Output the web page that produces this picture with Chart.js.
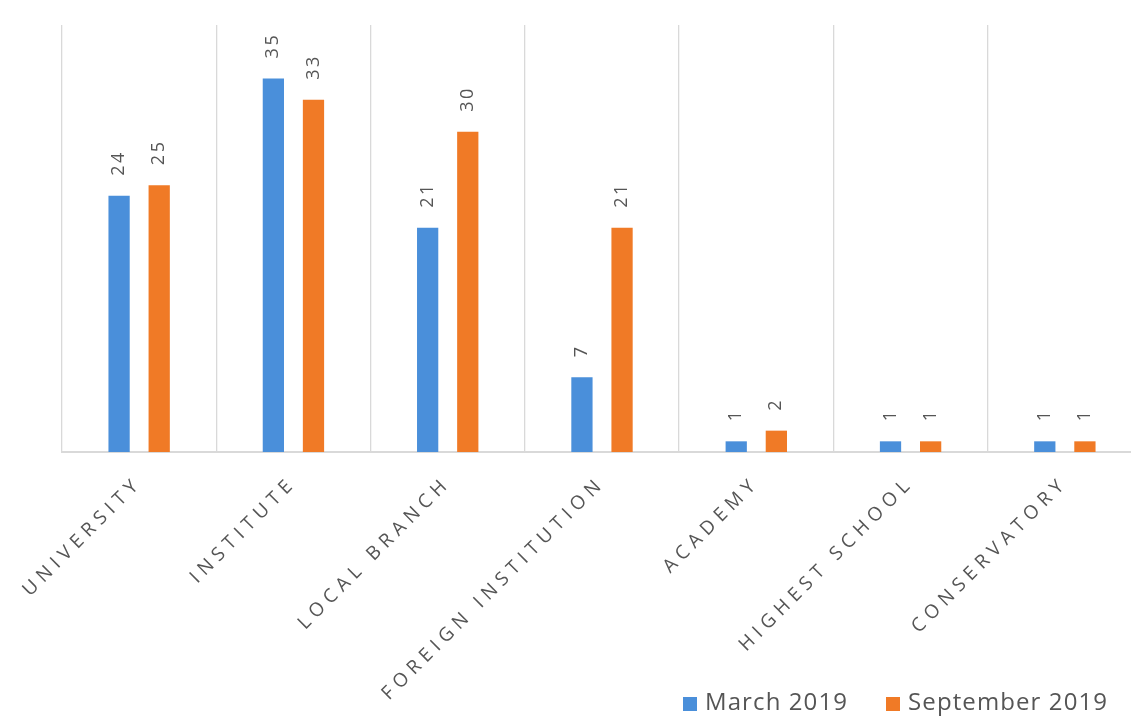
<!DOCTYPE html>
<html>
<head>
<meta charset="utf-8">
<script src="https://cdn.jsdelivr.net/npm/chart.js@4.4.1/dist/chart.umd.min.js"></script>
<style>
  html, body { margin:0; padding:0; background:#ffffff; }
  #wrap { position:relative; width:1131px; height:716px; overflow:hidden; background:#fff; }
  #c { position:absolute; left:0; top:0; }
  #legend { position:absolute; top:686px; left:683px; font-family:"Open Sans", sans-serif; font-size:24px; color:#555555; letter-spacing:1.1px; white-space:nowrap; line-height:30px; }
  #legend span.sw { display:inline-block; width:14px; height:14px; margin-right:8px; vertical-align:-1px; }
  #legend span.item { margin-right:38px; }
</style>
</head>
<body>
<div id="wrap">
  <canvas id="c" width="1160" height="716"></canvas>
  <div id="legend"></div>
</div>
<script>
const categories = ["UNIVERSITY", "INSTITUTE", "LOCAL BRANCH", "FOREIGN INSTITUTION", "ACADEMY", "HIGHEST SCHOOL", "CONSERVATORY"];
const march2019 = [24, 35, 21, 7, 1, 1, 1];
const september2019 = [25, 33, 30, 21, 2, 1, 1];
const seriesNames = ["March 2019", "September 2019"];
const seriesColors = ["#4A8FDA", "#F07A26"];

const labelPlugin = {
  id: 'vlabels',
  beforeDraw(chart) { chart.ctx.letterSpacing = '5.6px'; },
  afterDatasetsDraw(chart) {
    const ctx = chart.ctx;
    ctx.save();
    ctx.letterSpacing = '2.5px';
    ctx.font = '18px "Open Sans"';
    ctx.fillStyle = '#555555';
    ctx.textAlign = 'left';
    ctx.textBaseline = 'middle';
    chart.data.datasets.forEach((ds, i) => {
      chart.getDatasetMeta(i).data.forEach((bar, j) => {
        ctx.save();
        ctx.translate(bar.x, bar.y - 20);
        ctx.rotate(-Math.PI / 2);
        ctx.fillText(String(ds.data[j]), 0, 0);
        ctx.restore();
      });
    });
    ctx.restore();
  },
  afterDraw(chart) { chart.ctx.letterSpacing = '0px'; }
};

new Chart(document.getElementById('c'), {
  type: 'bar',
  data: {
    labels: categories,
    datasets: [
      { label: seriesNames[0], data: march2019, backgroundColor: seriesColors[0], categoryPercentage: 0.52, barPercentage: 0.53 },
      { label: seriesNames[1], data: september2019, backgroundColor: seriesColors[1], categoryPercentage: 0.52, barPercentage: 0.53 }
    ]
  },
  options: {
    responsive: false,
    animation: false,
    devicePixelRatio: 1,
    layout: { padding: { left: 62, right: 18, top: 25, bottom: 0 } },
    plugins: { legend: { display: false }, tooltip: { enabled: false } },
    scales: {
      x: {
        offset: true,
        grid: { offset: true, color: '#d9d9d9', lineWidth: 1.3, drawTicks: false },
        border: { color: '#d9d9d9', width: 2 },
        ticks: { autoSkip: false, minRotation: 45, maxRotation: 45, padding: 20, color: '#555555', font: { family: 'Open Sans', size: 19 } },
        afterFit(s) { s.height = 264; }
      },
      y: { display: false, min: 0, max: 40 }
    }
  },
  plugins: [labelPlugin]
});

const leg = document.getElementById('legend');
seriesNames.forEach((n, i) => {
  const it = document.createElement('span');
  it.className = 'item';
  const sw = document.createElement('span');
  sw.className = 'sw';
  sw.style.background = seriesColors[i];
  it.appendChild(sw);
  it.appendChild(document.createTextNode(n));
  leg.appendChild(it);
});
</script>
</body>
</html>
